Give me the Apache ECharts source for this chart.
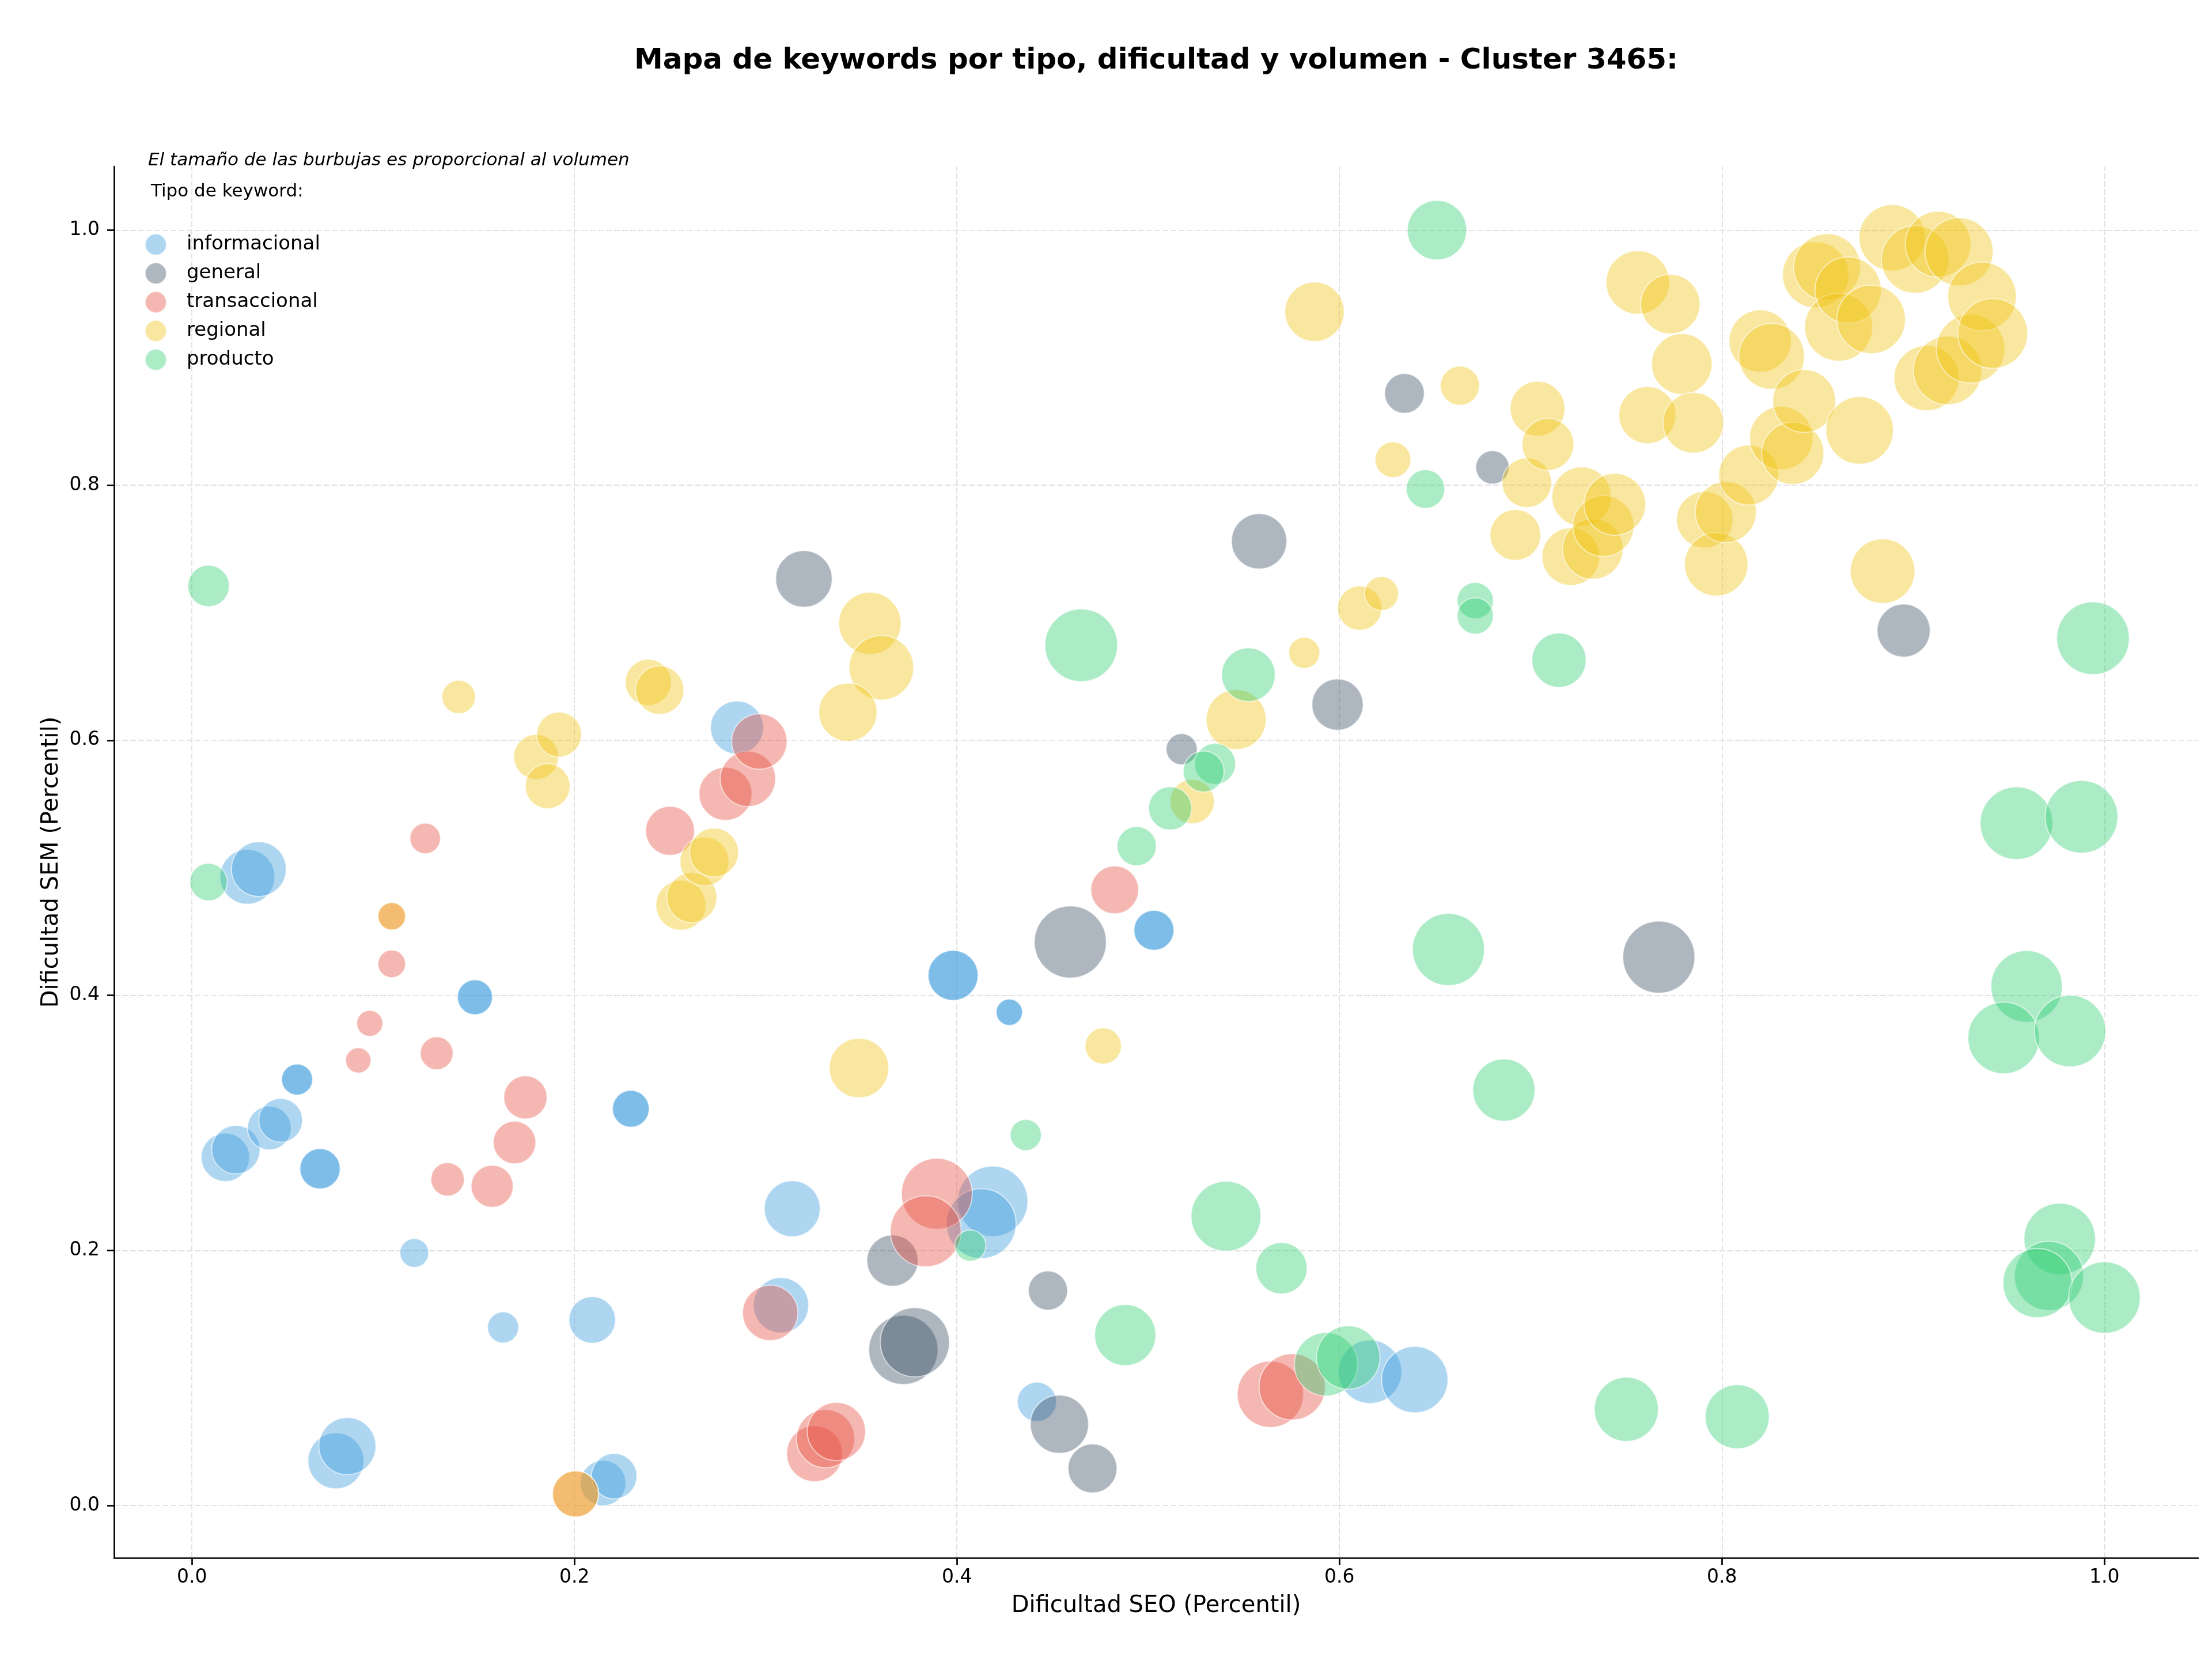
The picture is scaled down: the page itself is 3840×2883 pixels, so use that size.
<!DOCTYPE html>
<html>
<head>
<meta charset="utf-8">
<script src="https://cdn.jsdelivr.net/npm/echarts@6/dist/echarts.min.js"></script>
<style>html,body{margin:0;padding:0;background:#fff}#c{width:3840px;height:2883px}</style>
</head>
<body>
<div id="c"></div>
<script>
// ---- data: [dificultad SEO, dificultad SEM, volumen] ----
const tipos = ['informacional', 'general', 'transaccional', 'regional', 'producto'];
const xTicks = [0, 0.2, 0.4, 0.6, 0.8, 1.0];
const yTicks = [0, 0.2, 0.4, 0.6, 0.8, 1.0];

const informacional = [
  [0.029,0.493,57.8],[0.035,0.499,57.8],
  [0.0175,0.273,45.2],[0.023,0.279,45.2],
  [0.0405,0.296,37.0],[0.0464,0.302,37.0],
  [0.055,0.334,18.7],[0.055,0.334,18.7],
  [0.067,0.264,31.4],[0.067,0.264,31.4],
  [0.148,0.3985,23.8],[0.148,0.3985,23.8],
  [0.2295,0.311,26.2],[0.2295,0.311,26.2],
  [0.1163,0.198,16.0],
  [0.1627,0.1396,18.7],
  [0.2093,0.1455,42.0],
  [0.0753,0.035,60.2],[0.0813,0.0465,62.7],
  [0.215,0.0176,39.9],[0.2208,0.023,39.9],
  [0.285,0.610,54.2],
  [0.3139,0.2327,60.2],
  [0.308,0.157,59.0],
  [0.398,0.4156,48.4],[0.398,0.4156,48.4],
  [0.4274,0.3867,13.5],[0.4274,0.3867,13.5],
  [0.503,0.451,31.0],[0.503,0.451,31.0],
  [0.4187,0.2385,95.3],[0.4127,0.221,93.7],
  [0.4418,0.0813,29.6],
  [0.616,0.1048,77.4],[0.6394,0.0987,84.6]
];

const general = [
  [0.320,0.7265,61.5],[0.558,0.756,59.0],[0.634,0.872,30.5],[0.680,0.814,21.5],
  [0.599,0.628,50.7],[0.5175,0.593,18.7],[0.895,0.686,54.2],[0.4593,0.4418,100],
  [0.767,0.430,100],[0.3663,0.192,50.7],[0.372,0.122,92.2],[0.378,0.128,92.2],
  [0.4476,0.1685,29.6],[0.4536,0.0637,65.3],[0.4709,0.029,46.2]
];

const transaccional = [
  [0.1045,0.462,14.7],[0.1045,0.4247,14.7],[0.093,0.378,13.0],[0.087,0.349,12.4],
  [0.122,0.523,18.0],[0.128,0.3546,20.8],[0.1337,0.2557,21.5],[0.157,0.2503,34.1],
  [0.1687,0.2846,35.0],[0.1744,0.320,36.0],[0.250,0.529,46.2],[0.279,0.558,54.2],
  [0.2907,0.5697,59.0],[0.2967,0.599,59.0],[0.4825,0.4827,44.1],[0.3024,0.151,59.0],
  [0.3895,0.2444,96.8],[0.3837,0.215,96.8],[0.3256,0.0406,60.2],[0.3313,0.0524,65.3],
  [0.337,0.058,65.3],[0.5639,0.0872,84.6],[0.5753,0.093,84.6],[0.2006,0.009,41.0]
];

const regional = [
  [0.1045,0.462,14.7],[0.2006,0.009,41.0],[0.1395,0.634,21.5],[0.180,0.587,38.9],
  [0.192,0.6045,38.9],[0.186,0.564,38.9],[0.2386,0.6454,41.0],[0.2446,0.6393,45.2],
  [0.2557,0.4707,48.4],[0.2614,0.4766,48.4],[0.268,0.505,46.2],[0.273,0.512,46.2],
  [0.3545,0.6917,74.6],[0.3605,0.6569,80.3],[0.343,0.622,65.3],[0.3488,0.343,67.9],
  [0.4765,0.3603,25.4],[0.546,0.6162,69.2],[0.523,0.552,37.9],[0.5816,0.6686,18.7],
  [0.587,0.936,67.9],[0.6106,0.7036,37.9],[0.622,0.715,22.3],[0.628,0.820,24.6],
  [0.663,0.878,29.6],[0.692,0.761,49.6],[0.698,0.802,47.3],[0.7036,0.860,57.8],
  [0.709,0.832,51.8],[0.721,0.744,64.0],[0.7266,0.791,67.9],[0.7325,0.750,70.6],
  [0.738,0.768,71.9],[0.744,0.785,73.3],[0.756,0.959,77.4],[0.761,0.855,62.7],
  [0.773,0.942,67.9],[0.779,0.895,70.6],[0.785,0.849,70.6],[0.791,0.773,61.5],
  [0.797,0.738,77.4],[0.802,0.779,71.9],[0.814,0.808,69.2],[0.820,0.913,74.6],
  [0.826,0.901,83.2],[0.831,0.837,77.4],[0.837,0.825,74.6],[0.843,0.866,76.0],
  [0.849,0.965,84.6],[0.855,0.971,86.1],[0.861,0.924,89.1],[0.866,0.953,84.6],
  [0.872,0.843,87.6],[0.878,0.930,90.6],[0.884,0.7326,80.3],[0.889,0.994,84.6],
  [0.901,0.977,87.6],[0.907,0.884,81.7],[0.913,0.989,83.2],[0.918,0.890,90.6],
  [0.924,0.983,89.1],[0.930,0.907,90.6],[0.936,0.948,90.6],[0.9416,0.919,93.7]
];

const producto = [
  [0.0087,0.721,33.2],[0.0087,0.4888,27.0],[0.651,1.000,67.9],[0.645,0.797,28.7],
  [0.671,0.7095,25.4],[0.671,0.6975,25.4],[0.7148,0.6628,56.6],[0.5524,0.6514,55.4],
  [0.465,0.6745,101.6],[0.535,0.5815,32.3],[0.529,0.5755,32.3],[0.5115,0.5466,36.0],
  [0.494,0.517,29.6],[0.994,0.680,101.6],[0.954,0.535,101.6],[0.988,0.540,101.6],
  [0.657,0.436,100],[0.686,0.3257,74.6],[0.436,0.2905,18.7],[0.407,0.2037,18.7],
  [0.5407,0.2268,93.7],[0.5697,0.186,50.7],[0.488,0.1336,71.9],[0.593,0.1107,77.4],
  [0.6046,0.116,77.4],[0.750,0.0754,78.9],[0.808,0.0696,78.9],[0.9593,0.407,98.4],
  [0.9473,0.3666,98.4],[0.982,0.372,98.4],[0.9766,0.209,98.4],[0.971,0.180,92.2],
  [0.965,0.1744,92.2],[1.000,0.163,98.4]
];

const seriesData = { informacional, general, transaccional, regional, producto };
const colores = {
  informacional: 'rgba(52,152,219,0.5)',
  general: 'rgba(52,73,94,0.5)',
  transaccional: 'rgba(231,76,60,0.5)',
  regional: 'rgba(241,196,15,0.5)',
  producto: 'rgba(46,204,113,0.5)'
};

const FONT = 'DejaVu Sans';
const chart = echarts.init(document.getElementById('c'), null, { renderer: 'canvas' });

const gridLines = [];
xTicks.forEach(v => gridLines.push({ xAxis: v }));
yTicks.forEach(v => gridLines.push({ yAxis: v }));

const series = [{
  name: '_grid',
  type: 'scatter',
  data: [[-1, -1, 1]],
  symbolSize: 0,
  silent: true,
  z: 0,
  markLine: {
    silent: true,
    symbol: 'none',
    z: 0,
    animation: false,
    label: { show: false },
    lineStyle: { color: '#e2e2e2', width: 2, type: [10, 4] },
    emphasis: { disabled: true },
    data: gridLines
  }
}];

tipos.forEach(t => {
  series.push({
    name: t,
    type: 'scatter',
    data: seriesData[t],
    symbolSize: v => Math.sqrt(v[2]) * 12.5,
    itemStyle: { color: colores[t], borderColor: 'rgba(255,255,255,0.7)', borderWidth: 2 },
    emphasis: { disabled: true },
    z: 2
  });
});

chart.setOption({
  animation: false,
  backgroundColor: '#ffffff',
  textStyle: { fontFamily: FONT },
  grid: { left: 198, right: 24, top: 289, bottom: 179, containLabel: false },
  xAxis: {
    type: 'value',
    min: -0.0407, max: 1.049,
    name: 'Dificultad SEO (Percentil)',
    nameLocation: 'middle', nameGap: 64,
    nameTextStyle: { fontSize: 40, color: '#000', fontFamily: FONT },
    axisLine: { show: true, onZero: false, lineStyle: { color: '#000', width: 2.7 } },
    axisTick: { show: true, inside: false, length: 12, lineStyle: { color: '#000', width: 2.7 }, customValues: xTicks },
    axisLabel: { show: true, fontSize: 33, color: '#000', fontFamily: FONT, margin: 18, customValues: xTicks, formatter: v => Number(v).toFixed(1) },
    splitLine: { show: false }
  },
  yAxis: {
    type: 'value',
    min: -0.0411, max: 1.0499,
    name: 'Dificultad SEM (Percentil)',
    nameLocation: 'middle', nameGap: 88,
    nameTextStyle: { fontSize: 40, color: '#000', fontFamily: FONT },
    axisLine: { show: true, onZero: false, lineStyle: { color: '#000', width: 2.7 } },
    axisTick: { show: true, inside: false, length: 12, lineStyle: { color: '#000', width: 2.7 }, customValues: yTicks },
    axisLabel: { show: true, fontSize: 33, color: '#000', fontFamily: FONT, margin: 25, customValues: yTicks, formatter: v => Number(v).toFixed(1) },
    splitLine: { show: false }
  },
  legend: {
    data: tipos,
    orient: 'vertical',
    left: 246, top: 400,
    itemWidth: 37, itemHeight: 37, itemGap: 11,
    icon: 'circle',
    selectedMode: false,
    textStyle: { fontSize: 34, color: '#000', fontFamily: FONT, padding: [0, 0, 0, 30], lineHeight: 34 }
  },
  graphic: [
    { type: 'text', x: 2007, y: 106, style: { text: 'Mapa de keywords por tipo, dificultad y volumen - Cluster 3465:', font: 'bold 50px "DejaVu Sans"', fill: '#000', textAlign: 'center', textVerticalAlign: 'middle' } },
    { type: 'text', x: 257, y: 279, style: { text: 'El tamaño de las burbujas es proporcional al volumen', font: 'italic 31px "DejaVu Sans"', fill: '#000', textAlign: 'left', textVerticalAlign: 'middle' } },
    { type: 'text', x: 262, y: 333, style: { text: 'Tipo de keyword:', font: '31px "DejaVu Sans"', fill: '#000', textAlign: 'left', textVerticalAlign: 'middle' } }
  ],
  series: series
});
</script>
</body>
</html>
